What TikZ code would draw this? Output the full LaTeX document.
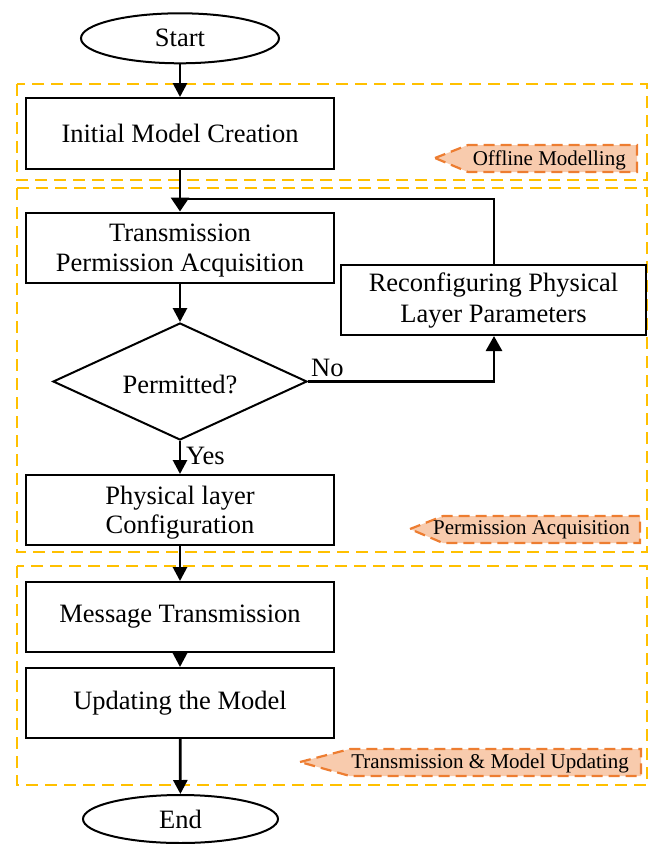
\documentclass[tikz,border=0pt]{standalone}
\usepackage{fontspec}
\setmainfont{Liberation Serif}
\usetikzlibrary{arrows.meta,shapes.geometric}
\definecolor{gold}{HTML}{FFC000}
\definecolor{tagfill}{HTML}{F8CBAD}
\definecolor{tagline}{HTML}{ED7D31}
% strut that sets the height of the first line of a two-line label
\newcommand{\toprow}[1]{\rule{0pt}{#1pt}}
\tikzset{
  stepbox/.style={draw, line width=2pt, fill=white, font=\fontsize{26.5}{31}\selectfont, align=center,
                  inner sep=0pt, minimum width=308pt, minimum height=70pt},
  term/.style={draw, ellipse, line width=2pt, font=\fontsize{26.5}{31}\selectfont, inner sep=0pt},
  flow/.style={line width=2.8pt, -{Triangle[length=14pt,width=14pt]}},
  plain/.style={line width=2.8pt},
  group/.style={draw=gold, line width=2.2pt, dash pattern=on 12pt off 7pt},
  tagshape/.style={draw=tagline, fill=tagfill, line width=2.2pt, dash pattern=on 11pt off 6pt},
  tagtext/.style={font=\fontsize{21}{24}\selectfont, anchor=east, inner sep=0pt},
  lbl/.style={font=\fontsize{26.5}{31}\selectfont, inner sep=0pt}
}
\begin{document}
\begin{tikzpicture}[x=1pt,y=-1pt]
\useasboundingbox (0,0) rectangle (651,844);

% stage frames
\draw[group] (17,84) rectangle (647,180);
\draw[group] (17,188) rectangle (647,552);
\draw[group] (17,566) rectangle (647,785);

% stage tags
\draw[tagshape] (435,158) -- (468,145) -- (637,145) -- (637,172) -- (468,172) -- cycle;
\node[tagtext] (tagA) at (626,160) {Offline Modelling};
\draw[tagshape] (410,529) -- (443,516) -- (640,516) -- (640,543) -- (443,543) -- cycle;
\node[tagtext] (tagB) at (630,530) {Permission Acquisition};
\draw[tagshape] (300,762) -- (350,749) -- (641,749) -- (641,776) -- (350,776) -- cycle;
\node[tagtext] (tagC) at (629,763) {Transmission \& Model Updating};

% terminals
\node[term, minimum width=198pt, minimum height=50pt] (start) at (180,38.3) {Start};
\node[term, minimum width=195pt, minimum height=48pt] (end) at (180.5,819) {End};

% process steps
\node[stepbox, minimum height=71pt] (init) at (180,133.5) {Initial Model Creation};
\node[stepbox, font=\fontsize{26.5}{30}\selectfont] (tpa) at (180,247.5)
  {\toprow{22.8}Transmission\\Permission Acquisition};
\node[stepbox, minimum width=305pt] (reconf) at (493.5,300) {\toprow{20.2}Reconfiguring Physical\\Layer Parameters};
\node[draw, diamond, line width=2pt, inner sep=0pt,
      shape aspect=2.17, minimum height=117pt, minimum width=254pt] (perm) at (180,381.5) {};
\node[lbl] (permtxt) at (180,384) {Permitted?};
\node[stepbox, font=\fontsize{26.5}{29}\selectfont] (phy) at (180,510) {\toprow{23.4}Physical layer\\Configuration};
\node[stepbox] (msg) at (180,617) {Message Transmission};
\node[stepbox] (upd) at (180,703) {Updating the Model};

% connectors
\coordinate (merge) at (180,199);
\coordinate (loopcorner) at (494,199);
\draw[flow] (start) -- (init);
\draw[plain] (init) -- (merge);
\draw[line width=2.8pt, -{Triangle[length=14pt,width=18pt]}]
  (reconf.north -| loopcorner) -- (loopcorner) -- (merge) -- (tpa.north);
\draw[flow, -{Triangle[length=15pt,width=16pt]}] (perm.east) -| (reconf.south -| loopcorner);
\draw[flow] (tpa) -- (perm.north);
\draw[flow] (perm.south) -- (phy.north);
\draw[flow] (phy) -- (msg);
\draw[flow] (msg) -- (upd);
\draw[flow] (upd) -- (end);

% branch labels
\node[lbl, anchor=west] (nolbl) at (311,368) {No};
\node[lbl, anchor=west] (yeslbl) at (186,456) {Yes};
\end{tikzpicture}
\end{document}
